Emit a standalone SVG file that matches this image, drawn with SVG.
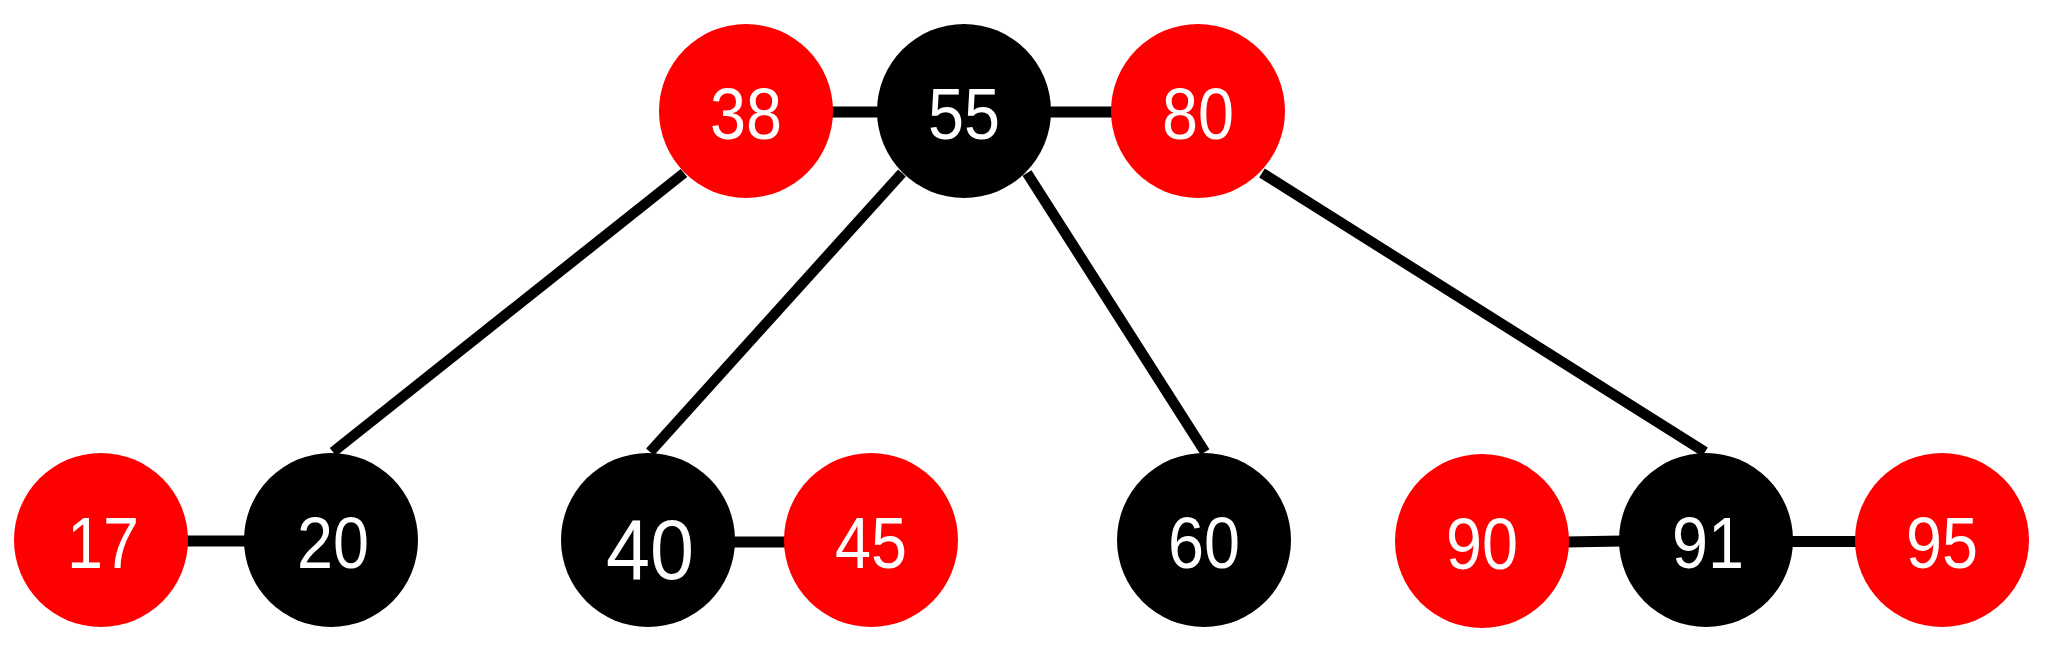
<svg xmlns="http://www.w3.org/2000/svg" width="2052" height="654" viewBox="0 0 2052 654">
<style>
.e{stroke:#000;stroke-width:10.5;fill:none}
.h{stroke:#000;stroke-width:11;fill:none}
.r{fill:#FF0000}
.b{fill:#000}
.t{fill:#fff;font-family:"Liberation Sans",Arial,sans-serif;font-size:73px;text-anchor:middle}
.big{font-size:86px}
</style>
<rect width="2052" height="654" fill="#fff"/>
<g id="connectors">
<line class="h" x1="830" y1="112" x2="880" y2="112"/>
<line class="h" x1="1048" y1="112" x2="1114" y2="112"/>
<line class="e" x1="684" y1="173" x2="333" y2="452"/>
<line class="e" x1="902" y1="173" x2="650" y2="452"/>
<line class="e" x1="1027" y1="173" x2="1205" y2="452"/>
<line class="e" x1="1262" y1="173" x2="1705" y2="452"/>
<line class="h" x1="185" y1="541" x2="247" y2="541"/>
<line class="h" x1="733" y1="542" x2="788" y2="542"/>
<line class="h" x1="1566" y1="542" x2="1622" y2="541"/>
<line class="h" x1="1790" y1="541.5" x2="1858" y2="541.5"/>
</g>
<g id="n38"><circle class="r" cx="746" cy="111" r="87"/><text class="t" x="746" y="139" textLength="72" lengthAdjust="spacingAndGlyphs">38</text></g>
<g id="n55"><circle class="b" cx="964" cy="111" r="87"/><text class="t" x="964" y="139" textLength="72" lengthAdjust="spacingAndGlyphs">55</text></g>
<g id="n80"><circle class="r" cx="1198" cy="111" r="87"/><text class="t" x="1198" y="139" textLength="72" lengthAdjust="spacingAndGlyphs">80</text></g>
<g id="n17"><circle class="r" cx="101" cy="540" r="87"/><text class="t" x="103" y="568" textLength="72" lengthAdjust="spacingAndGlyphs">17</text></g>
<g id="n20"><circle class="b" cx="331" cy="540" r="87"/><text class="t" x="333" y="568" textLength="72" lengthAdjust="spacingAndGlyphs">20</text></g>
<g id="n40"><circle class="b" cx="648" cy="540" r="87"/><text class="t big" x="650" y="579" textLength="88" lengthAdjust="spacingAndGlyphs">40</text></g>
<g id="n45"><circle class="r" cx="871" cy="540" r="87"/><text class="t" x="871" y="568" textLength="72" lengthAdjust="spacingAndGlyphs">45</text></g>
<g id="n60"><circle class="b" cx="1204" cy="540" r="87"/><text class="t" x="1204" y="568" textLength="72" lengthAdjust="spacingAndGlyphs">60</text></g>
<g id="n90"><circle class="r" cx="1482" cy="541" r="87"/><text class="t" x="1482" y="569" textLength="72" lengthAdjust="spacingAndGlyphs">90</text></g>
<g id="n91"><circle class="b" cx="1706" cy="540" r="87"/><text class="t" x="1708" y="568" textLength="72" lengthAdjust="spacingAndGlyphs">91</text></g>
<g id="n95"><circle class="r" cx="1942" cy="540" r="87"/><text class="t" x="1942" y="568" textLength="72" lengthAdjust="spacingAndGlyphs">95</text></g>
</svg>
